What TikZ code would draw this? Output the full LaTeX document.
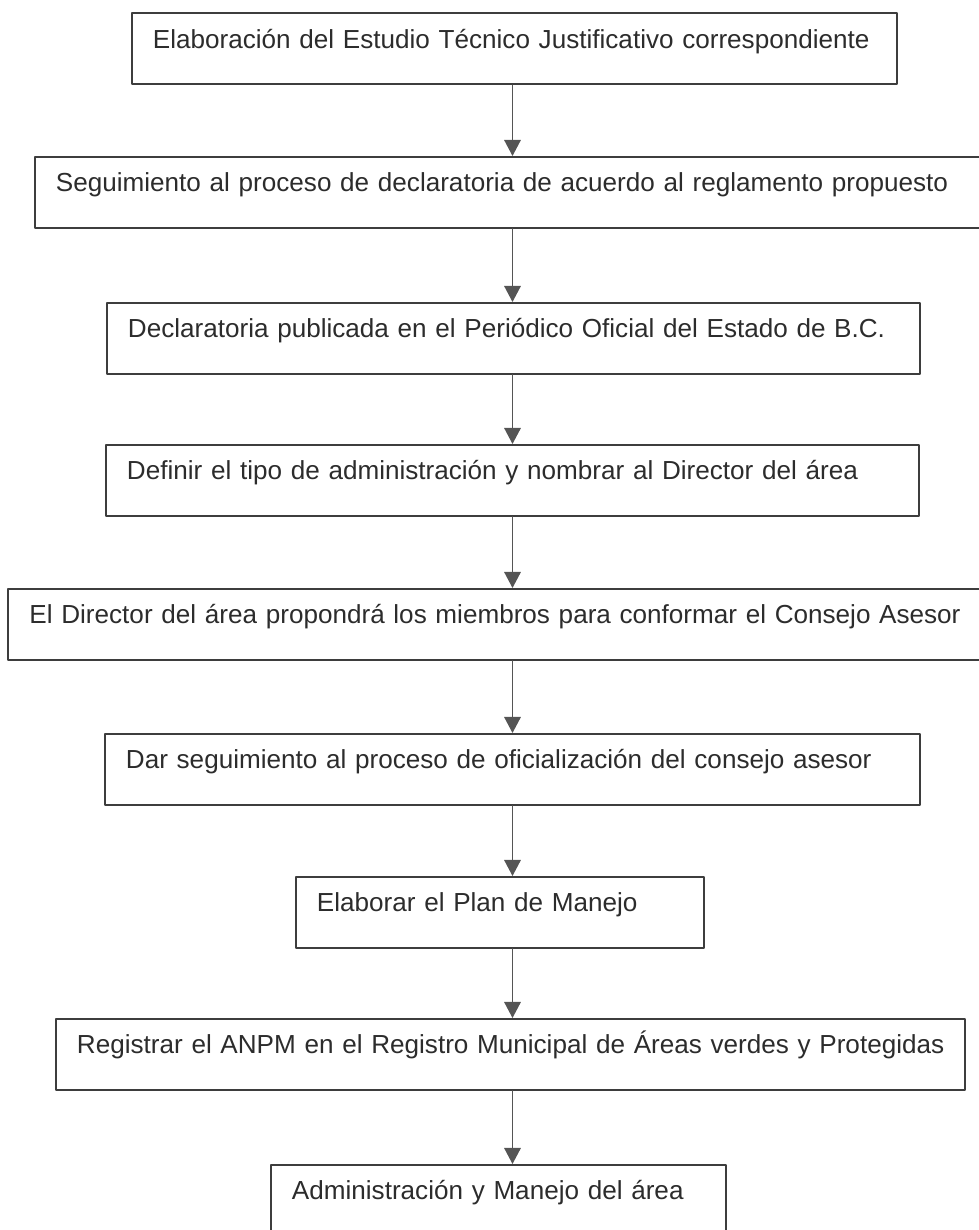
\documentclass[tikz,border=0pt]{standalone}
\usepackage{fontspec}
\setmainfont{Liberation Sans}
\usetikzlibrary{arrows.meta}

\definecolor{linea}{HTML}{3D3D3D}
\definecolor{texto}{HTML}{2C2C2C}
\definecolor{flechagris}{HTML}{555555}

\tikzset{
    paso/.style={draw=linea, line width=1.1pt, rectangle, anchor=north west,
        inner xsep=0.42cm, inner ysep=0pt, text height=0.70cm, text depth=0.72cm,
        align=left, text=texto, font=\fontsize{14.85}{18}\selectfont},
    flecha/.style={draw=flechagris, line width=0.9pt,
        -{Triangle[length=0.32cm, width=0.33cm, fill=flechagris]}}
}

\begin{document}
\begin{tikzpicture}[line cap=round, line join=round, x=1cm, y=1cm]

                \useasboundingbox (0,0) rectangle (19.58,24.6);
                \coordinate (eje) at (10.25,0);

                \node[paso, text width=14.46cm] (b1) at (2.62,24.35) {\mbox{Elaboración del Estudio Técnico Justificativo correspondiente}};
                \node[paso, text width=19.2cm] (b2) at (0.68,21.48) {\mbox{Seguimiento al proceso de declaratoria de acuerdo al reglamento propuesto}};
                \node[paso, text width=15.42cm] (b3) at (2.12,18.56) {\mbox{Declaratoria publicada en el Periódico Oficial del Estado de B.C.}};
                \node[paso, text width=15.42cm] (b4) at (2.10,15.72) {\mbox{Definir el tipo de administración y nombrar al Director del área}};
                \node[paso, text width=19.6cm] (b5) at (0.15,12.84) {\mbox{El Director del área propondrá los miembros para conformar el Consejo Asesor}};
                \node[paso, text width=15.46cm] (b6) at (2.08,9.94) {\mbox{Dar seguimiento al proceso de oficialización del consejo asesor}};
                \node[paso, text width=7.32cm] (b7) at (5.90,7.08) {\mbox{Elaborar el Plan de Manejo}};
                \node[paso, text width=17.34cm] (b8) at (1.10,4.24) {\mbox{Registrar el ANPM en el Registro Municipal de Áreas verdes y Protegidas}};
                \node[paso, text width=8.26cm, text depth=1.1cm] (b9) at (5.40,1.32) {\mbox{Administración y Manejo del área}};

                \draw[flecha] (b1.south -| eje) -- (b2.north -| eje);
                \draw[flecha] (b2.south -| eje) -- (b3.north -| eje);
                \draw[flecha] (b3.south -| eje) -- (b4.north -| eje);
                \draw[flecha] (b4.south -| eje) -- (b5.north -| eje);
                \draw[flecha] (b5.south -| eje) -- (b6.north -| eje);
                \draw[flecha] (b6.south -| eje) -- (b7.north -| eje);
                \draw[flecha] (b7.south -| eje) -- (b8.north -| eje);
                \draw[flecha] (b8.south -| eje) -- (b9.north -| eje);

\end{tikzpicture}
\end{document}
